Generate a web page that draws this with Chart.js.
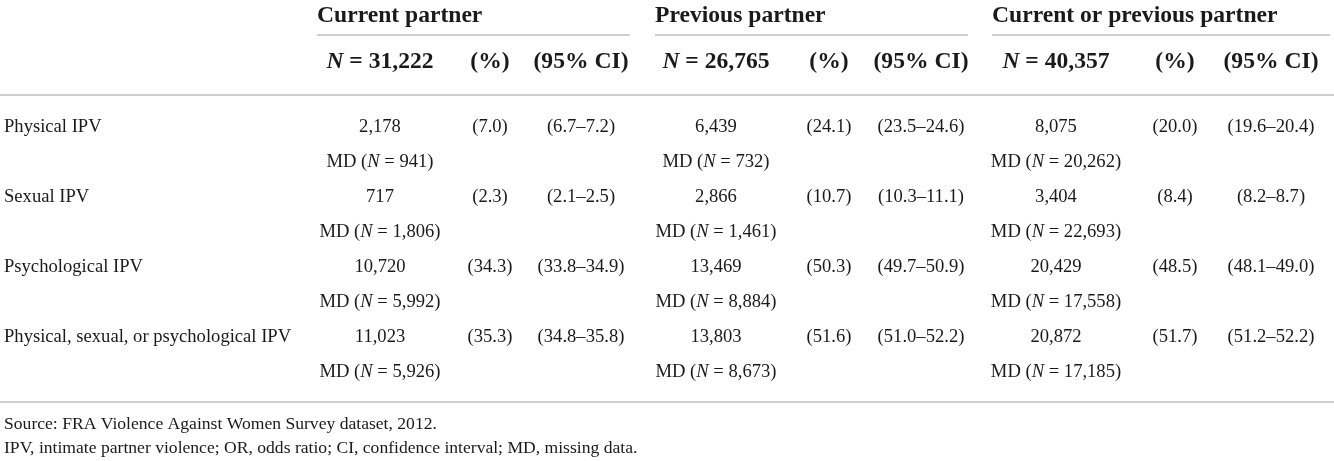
<!DOCTYPE html>
<html>
<head>
<meta charset="utf-8">
<script src="https://cdn.jsdelivr.net/npm/chart.js@4"></script>
<style>
  html, body { margin: 0; padding: 0; background: #fff; }
  #wrap { width: 1334px; height: 461px; position: relative; }
</style>
</head>
<body>
<div id="wrap"><canvas id="tableChart"></canvas></div>
<script>
// table data
const groups = ["Current partner", "Previous partner", "Current or previous partner"];
const groupN = [31222, 26765, 40357];
const measures = ["Physical IPV", "Sexual IPV", "Psychological IPV", "Physical, sexual, or psychological IPV"];

const currentCount = [2178, 717, 10720, 11023];
const currentPct = [7.0, 2.3, 34.3, 35.3];
const currentLow = [6.7, 2.1, 33.8, 34.8];
const currentHigh = [7.2, 2.5, 34.9, 35.8];
const currentMD = [941, 1806, 5992, 5926];

const previousCount = [6439, 2866, 13469, 13803];
const previousPct = [24.1, 10.7, 50.3, 51.6];
const previousLow = [23.5, 10.3, 49.7, 51.0];
const previousHigh = [24.6, 11.1, 50.9, 52.2];
const previousMD = [732, 1461, 8884, 8673];

const eitherCount = [8075, 3404, 20429, 20872];
const eitherPct = [20.0, 8.4, 48.5, 51.7];
const eitherLow = [19.6, 8.2, 48.1, 51.2];
const eitherHigh = [20.4, 8.7, 49.0, 52.2];
const eitherMD = [20262, 22693, 17558, 17185];

const footnotes = [
  "Source: FRA Violence Against Women Survey dataset, 2012.",
  "IPV, intimate partner violence; OR, odds ratio; CI, confidence interval; MD, missing data."
];

// layout (scale units = px of the 1334x461 page)
const LABEL_X = 4;
const GROUP_LEFT = [317, 655, 992];
const GROUP_RIGHT = [630, 968, 1330];
const COUNT_X = [380, 716, 1056];
const PCT_X = [490, 829, 1175];
const CI_X = [581, 921, 1271];
const TITLE_Y = 16;
const HEAD_Y = 62;
const BODY_Y = [127, 162, 197, 232, 267, 302, 337, 372];
const FOOT_Y = [424, 448];
const RULE_Y = { group: 35, head: 95, foot: 402 };

const SERIF = "'Liberation Serif', 'DejaVu Serif', serif";
const F_BODY = "18.6px " + SERIF;
const F_BODY_I = "italic 18.6px " + SERIF;
const F_HEAD = "bold 23.6px " + SERIF;
const F_HEAD_I = "italic bold 23.6px " + SERIF;
const F_FOOT = "17.6px " + SERIF;
const INK = "#1a1a1a";
const RULE = "#cfcfcf";
const EQ = " = ";

const fmt = (n) => n.toLocaleString("en-US");
const fmt1 = (n) => n.toFixed(1);

const perGroup = [
  { count: currentCount, pct: currentPct, low: currentLow, high: currentHigh, md: currentMD },
  { count: previousCount, pct: previousPct, low: previousLow, high: previousHigh, md: previousMD },
  { count: eitherCount, pct: eitherPct, low: eitherLow, high: eitherHigh, md: eitherMD }
];

function cellDataset(align, points) {
  return {
    align: align,
    data: points.map((p) => ({ x: p.x, y: p.y })),
    cells: points.map((p) => p.runs),
    pointRadius: 0,
    showLine: false
  };
}

const datasets = [];

// row labels
datasets.push(cellDataset("left", measures.map((m, i) => ({
  x: LABEL_X, y: BODY_Y[i * 2], runs: [{ text: m, font: F_BODY }]
}))));

// group titles
datasets.push(cellDataset("left", groups.map((g, k) => ({
  x: GROUP_LEFT[k], y: TITLE_Y, runs: [{ text: g, font: F_HEAD }]
}))));

// column headers
datasets.push(cellDataset("center", groupN.map((n, k) => ({
  x: COUNT_X[k], y: HEAD_Y,
  runs: [{ text: "N", font: F_HEAD_I }, { text: EQ + fmt(n), font: F_HEAD }]
}))));
datasets.push(cellDataset("center", groups.map((g, k) => ({
  x: PCT_X[k], y: HEAD_Y, runs: [{ text: "(%)", font: F_HEAD }]
}))));
datasets.push(cellDataset("center", groups.map((g, k) => ({
  x: CI_X[k], y: HEAD_Y, runs: [{ text: "(95% CI)", font: F_HEAD }]
}))));

// body cells
perGroup.forEach((d, k) => {
  datasets.push(cellDataset("center", d.count.map((v, i) => ({
    x: COUNT_X[k], y: BODY_Y[i * 2], runs: [{ text: fmt(v), font: F_BODY }]
  }))));
  datasets.push(cellDataset("center", d.md.map((v, i) => ({
    x: COUNT_X[k], y: BODY_Y[i * 2 + 1],
    runs: [{ text: "MD (", font: F_BODY }, { text: "N", font: F_BODY_I }, { text: EQ + fmt(v) + ")", font: F_BODY }]
  }))));
  datasets.push(cellDataset("center", d.pct.map((v, i) => ({
    x: PCT_X[k], y: BODY_Y[i * 2], runs: [{ text: "(" + fmt1(v) + ")", font: F_BODY }]
  }))));
  datasets.push(cellDataset("center", d.low.map((v, i) => ({
    x: CI_X[k], y: BODY_Y[i * 2],
    runs: [{ text: "(" + fmt1(v) + "\u2013" + fmt1(d.high[i]) + ")", font: F_BODY }]
  }))));
});

// footnotes
datasets.push(cellDataset("left", footnotes.map((t, i) => ({
  x: LABEL_X, y: FOOT_Y[i], runs: [{ text: t, font: F_FOOT }]
}))));

function drawRuns(ctx, runs, x, y, align) {
  let w = 0;
  runs.forEach((r) => { ctx.font = r.font; w += ctx.measureText(r.text).width; });
  let cx = align === "center" ? x - w / 2 : align === "right" ? x - w : x;
  runs.forEach((r) => {
    ctx.font = r.font;
    ctx.fillText(r.text, cx, y);
    cx += ctx.measureText(r.text).width;
  });
}

const tablePlugin = {
  id: "tableCells",
  beforeDatasetsDraw(chart) {
    const ctx = chart.ctx;
    const xs = chart.scales.x, ys = chart.scales.y;
    ctx.save();
    ctx.strokeStyle = RULE;
    ctx.lineWidth = 2;
    const hline = (x0, x1, y) => {
      const py = ys.getPixelForValue(y);
      ctx.beginPath();
      ctx.moveTo(xs.getPixelForValue(x0), py);
      ctx.lineTo(xs.getPixelForValue(x1), py);
      ctx.stroke();
    };
    groups.forEach((g, k) => hline(GROUP_LEFT[k], GROUP_RIGHT[k], RULE_Y.group));
    hline(0, 1334, RULE_Y.head);
    hline(0, 1334, RULE_Y.foot);
    ctx.restore();
  },
  afterDatasetsDraw(chart) {
    const ctx = chart.ctx;
    ctx.save();
    ctx.fillStyle = INK;
    ctx.textBaseline = "middle";
    ctx.textAlign = "left";
    chart.data.datasets.forEach((ds, i) => {
      chart.getDatasetMeta(i).data.forEach((pt, j) => {
        drawRuns(ctx, ds.cells[j], pt.x, pt.y, ds.align);
      });
    });
    ctx.restore();
  }
};

new Chart(document.getElementById("tableChart"), {
  type: "scatter",
  data: { datasets: datasets },
  options: {
    responsive: true,
    maintainAspectRatio: false,
    animation: false,
    layout: { padding: 0 },
    plugins: { legend: { display: false }, tooltip: { enabled: false } },
    scales: {
      x: { type: "linear", min: 0, max: 1334, display: false },
      y: { type: "linear", min: 0, max: 461, reverse: true, display: false }
    }
  },
  plugins: [tablePlugin]
});
</script>
</body>
</html>
